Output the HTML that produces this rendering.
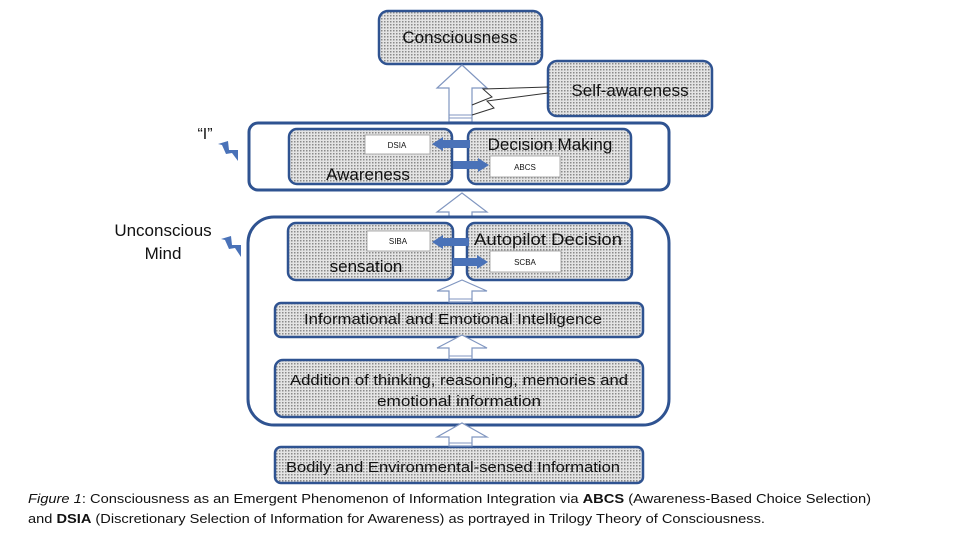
<!DOCTYPE html>
<html><head><meta charset="utf-8"><style>
html,body{margin:0;padding:0;background:#fff;width:960px;height:540px;overflow:hidden}
svg{display:block}
text{font-family:"Liberation Sans",sans-serif}
</style></head><body>
<svg width="960" height="540" viewBox="0 0 960 540" xmlns="http://www.w3.org/2000/svg">
<defs>
<pattern id="dots" width="3" height="3" patternUnits="userSpaceOnUse">
<rect width="3" height="3" fill="#e4e4e4"/>
<rect x="0" y="0" width="1.5" height="1.5" fill="#8a8a8a"/>
</pattern>
</defs>
<g stroke="#2f5391" fill="url(#dots)" stroke-width="2.5">
<rect x="379" y="11" width="163" height="53" rx="9"/>
<rect x="548" y="61" width="164" height="55" rx="9"/>
</g>
<path d="M449,122 V88 H437 L462,65 L487,88 H472 V122 Z" fill="#fff" stroke="#8096c0" stroke-width="1.2"/>
<line x1="449" y1="115" x2="472" y2="115" stroke="#8096c0"/>
<line x1="449" y1="118" x2="472" y2="118" stroke="#8096c0"/>
<polyline points="548,93 487,101 494,108 472,115" fill="none" stroke="#333" stroke-width="1"/>
<polyline points="548,87 483,89 492,97 472,105" fill="none" stroke="#333" stroke-width="1"/>
<rect x="249" y="123" width="420" height="67" rx="9" fill="#fff" stroke="#2f5391" stroke-width="3"/>
<g stroke="#2f5391" fill="url(#dots)" stroke-width="2.5">
<rect x="289" y="129" width="163" height="55" rx="8"/>
<rect x="468" y="129" width="163" height="55" rx="8"/>
</g>
<rect x="365" y="135" width="65" height="19" fill="#fff" stroke="#999" stroke-width="0.8"/>
<rect x="490" y="156" width="70" height="21" fill="#fff" stroke="#999" stroke-width="0.8"/>
<path d="M470,140 H443 V137 L432,144 L443,151 V148 H470 Z" fill="#4a72b8"/>
<path d="M453,161 H478 V158 L489,165 L478,172 V169 H453 Z" fill="#4a72b8"/>
<path d="M449,217 V212 H437 L462,193 L487,212 H472 V217 Z" fill="#fff" stroke="#8096c0" stroke-width="1.2"/>
<rect x="248" y="217" width="421" height="208" rx="26" fill="#fff" stroke="#2f5391" stroke-width="3"/>
<g stroke="#2f5391" fill="url(#dots)" stroke-width="2.5">
<rect x="288" y="223" width="165" height="57" rx="8"/>
<rect x="467" y="223" width="165" height="57" rx="8"/>
<rect x="275" y="303" width="368" height="34" rx="6"/>
<rect x="275" y="360" width="368" height="57" rx="8"/>
<rect x="275" y="447" width="368" height="36" rx="6"/>
</g>
<rect x="367" y="231" width="63" height="20" fill="#fff" stroke="#999" stroke-width="0.8"/>
<rect x="490" y="251" width="71" height="21" fill="#fff" stroke="#999" stroke-width="0.8"/>
<path d="M469,238 H443 V235 L432,242 L443,249 V246 H469 Z" fill="#4a72b8"/>
<path d="M453,258 H477 V255 L488,262 L477,269 V266 H453 Z" fill="#4a72b8"/>
<g fill="#fff" stroke="#8096c0" stroke-width="1.2">
<path d="M449,302 V291 H437 L462,280 L487,291 H472 V302 Z"/>
<path d="M449,359 V348 H437 L462,335 L487,348 H472 V359 Z"/>
<path d="M449,446 V437 H437 L462,423 L487,437 H472 V446 Z"/>
</g>
<g stroke="#8096c0"><line x1="449" y1="299" x2="472" y2="299"/><line x1="449" y1="356" x2="472" y2="356"/><line x1="449" y1="443" x2="472" y2="443"/></g>
<g fill="#111">
<text x="460" y="43" font-size="17" text-anchor="middle">Consciousness</text>
<text x="630" y="96" font-size="17" text-anchor="middle">Self-awareness</text>
<text x="397" y="148" font-size="8" text-anchor="middle">DSIA</text>
<text x="525" y="170" font-size="8" text-anchor="middle">ABCS</text>
<text x="368" y="180" font-size="17" text-anchor="middle">Awareness</text>
<text x="550" y="150" font-size="17" text-anchor="middle">Decision Making</text>
<text x="398" y="244" font-size="8" text-anchor="middle">SIBA</text>
<text x="525" y="265" font-size="8" text-anchor="middle">SCBA</text>
<text x="366" y="272" font-size="17" text-anchor="middle">sensation</text>
<text x="548" y="245" font-size="17" text-anchor="middle" textLength="148" lengthAdjust="spacingAndGlyphs">Autopilot Decision</text>
<text x="453" y="324" font-size="15" text-anchor="middle" textLength="298" lengthAdjust="spacingAndGlyphs">Informational and Emotional Intelligence</text>
<text x="459" y="385" font-size="15" text-anchor="middle" textLength="338" lengthAdjust="spacingAndGlyphs">Addition of thinking, reasoning, memories and</text>
<text x="459" y="406" font-size="15" text-anchor="middle" textLength="164" lengthAdjust="spacingAndGlyphs">emotional information</text>
<text x="453" y="472" font-size="15" text-anchor="middle" textLength="334" lengthAdjust="spacingAndGlyphs">Bodily and Environmental-sensed Information</text>
<text x="205" y="139" font-size="16" text-anchor="middle" font-family="Liberation Serif,serif">“I”</text>
<text x="163" y="236" font-size="17" text-anchor="middle" font-family="Liberation Serif,serif">Unconscious</text>
<text x="163" y="259" font-size="17" text-anchor="middle" font-family="Liberation Serif,serif">Mind</text>
<text x="28" y="503" font-size="13" textLength="843" lengthAdjust="spacingAndGlyphs"><tspan font-style="italic">Figure 1</tspan>: Consciousness as an Emergent Phenomenon of Information Integration via <tspan font-weight="bold">ABCS</tspan> (Awareness-Based Choice Selection)</text>
<text x="28" y="523" font-size="13" textLength="737" lengthAdjust="spacingAndGlyphs">and <tspan font-weight="bold">DSIA</tspan> (Discretionary Selection of Information for Awareness) as portrayed in Trilogy Theory of Consciousness.</text>
</g>
<path d="M218,144 L228,141 L229,150 L238,150 L238,161 L232,153 L226,154 L222,145 Z" fill="#4a72b8"/>
<path d="M221,239 L231,236 L232,245 L241,245 L241,257 L235,248 L229,249 L225,240 Z" fill="#4a72b8"/>
</svg>
</body></html>
